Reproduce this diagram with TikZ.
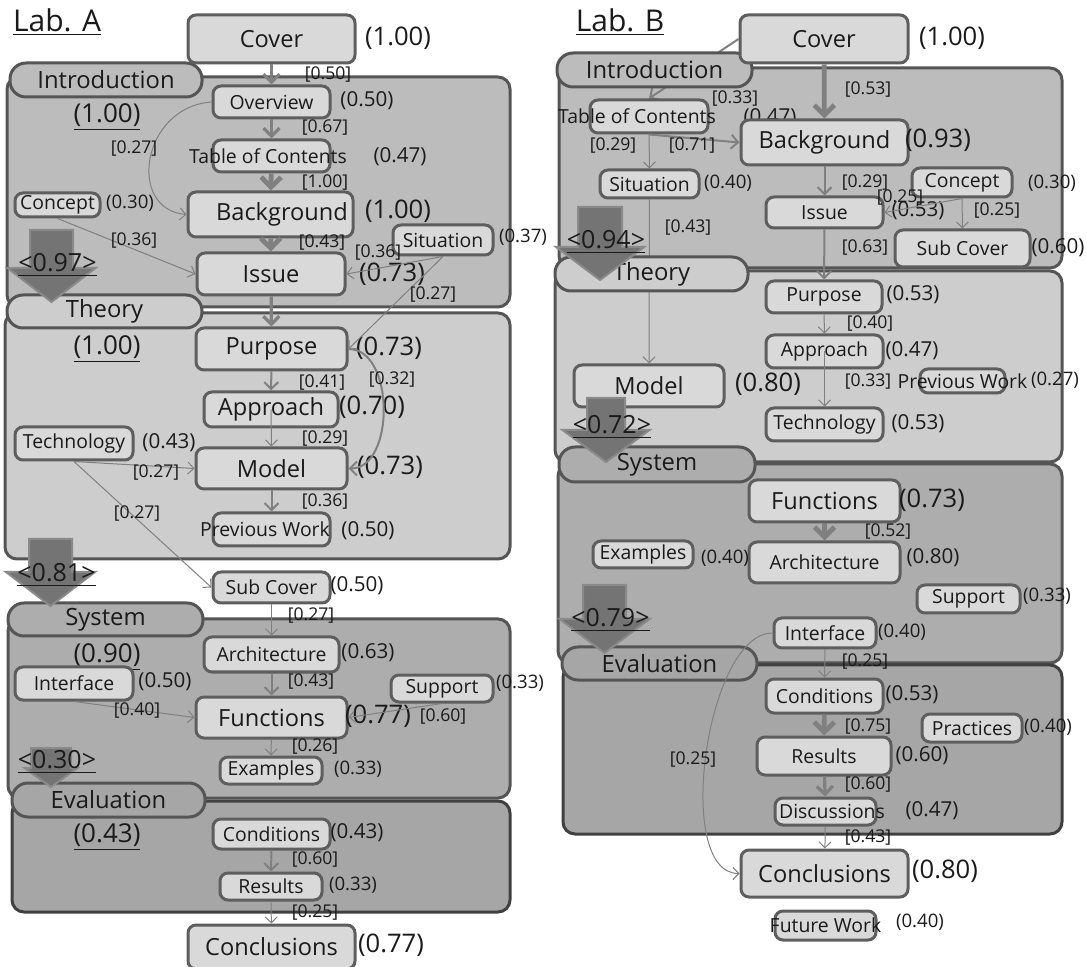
\documentclass[tikz,border=0pt]{standalone}
\usepackage{fontspec}
\setmainfont{Open Sans}
\usetikzlibrary{arrows.meta}

\definecolor{ink}{HTML}{1A1A1A}
\definecolor{boxfill}{HTML}{D9D9D9}
\definecolor{boxline}{HTML}{5E5E5E}
\definecolor{edgegray}{HTML}{808080}
\definecolor{introfill}{HTML}{BCBCBC}
\definecolor{theoryfill}{HTML}{CDCDCD}
\definecolor{systemfill}{HTML}{ADADAD}
\definecolor{evalfill}{HTML}{A6A6A6}
\definecolor{secline}{HTML}{555555}
\definecolor{evalline}{HTML}{404040}
\definecolor{arrfill}{HTML}{747474}
\definecolor{arrline}{HTML}{8A8A8A}

\pgfdeclarelayer{sec}
\pgfdeclarelayer{low}
\pgfdeclarelayer{tab}
\pgfsetlayers{sec,low,tab,main}

% big down arrow between sections: name, x, top, neck, tip, shaft half, head half, label y, label
\newcommand{\flowarrow}[9]{%
	\draw[bigarr] (#2-#6,#3) -- (#2+#6,#3) -- (#2+#6,#4) -- (#2+#7,#4) -- (#2,#5) -- (#2-#7,#4) -- (#2-#6,#4) -- cycle;
	\node[arrlbl] (#1) at (#2+6,#8) {\underline{#9}};}

\begin{document}
\begin{tikzpicture}[x=0.5pt,y=-0.5pt,text=ink,
	blk/.style={draw=boxline,fill=boxfill,line width=1.5pt,rounded corners=4pt,inner sep=0pt},
	sz/.style 2 args={minimum width=#1*0.5pt,minimum height=#2*0.5pt},
	big/.style={font=\fontsize{11.8}{13}\selectfont},
	mid/.style={font=\fontsize{9.7}{11}\selectfont},
	vbig/.style={font=\fontsize{12.8}{14}\selectfont,inner sep=0pt},
	vmid/.style={font=\fontsize{10.3}{12}\selectfont,inner sep=0pt},
	vsm/.style={font=\fontsize{9.3}{11}\selectfont,inner sep=0pt},
	lbl/.style={font=\fontsize{8.8}{10}\selectfont,inner sep=0pt},
	secbox/.style={draw=secline,line width=1.5pt,rounded corners=6pt},
	tab/.style={draw=secline,line width=1.5pt,rounded corners=8pt,inner sep=0pt,font=\fontsize{11.9}{13}\selectfont},
	secv/.style={font=\fontsize{13}{15}\selectfont,inner sep=0pt},
	e1/.style={draw=edgegray,line width=0.5pt,-{Straight Barb[length=3pt,width=6pt]}},
	e2/.style={draw=edgegray,line width=1pt,-{Straight Barb[length=3.5pt,width=7pt]}},
	e3/.style={draw=edgegray,line width=1.6pt,-{Straight Barb[length=4pt,width=8pt]}},
	e4/.style={draw=edgegray,line width=2.4pt,-{Straight Barb[length=5pt,width=10pt]}},
	bigarr/.style={draw=arrline,fill=arrfill,line width=1pt},
	arrlbl/.style={font=\fontsize{12.5}{14}\selectfont,inner sep=0pt}]
	\useasboundingbox (0,0) rectangle (1087,967);

	% Section frames
	\begin{pgfonlayer}{sec}
		\draw[secbox,fill=introfill] (7,77) rectangle (510,307);
		\draw[secbox,fill=theoryfill] (5,313) rectangle (510,559);
		\draw[secbox,fill=systemfill] (8,619) rectangle (510,798);
		\draw[secbox,fill=evalfill,draw=evalline] (12,801) rectangle (510,912);
		\draw[secbox,fill=introfill] (559,68) rectangle (1062,268);
		\draw[secbox,fill=theoryfill] (555,271) rectangle (1062,462);
		\draw[secbox,fill=systemfill] (558,464) rectangle (1062,663);
		\draw[secbox,fill=evalfill,draw=evalline] (563,665) rectangle (1062,834);
	\end{pgfonlayer}
	\begin{pgfonlayer}{tab}
		\node[tab,fill=introfill,sz={192}{34}] (aintro) at (106,80) {Introduction};
		\node[tab,fill=theoryfill,sz={195}{33}] (atheory) at (104.5,311.5) {Theory};
		\node[tab,fill=systemfill,sz={195}{33}] (asystem) at (105.5,619.5) {System};
		\node[tab,fill=evalfill,sz={193}{34}] (aeval) at (108.5,800) {Evaluation};
		\node[tab,fill=introfill,sz={195}{34}] (bintro) at (654.5,70) {Introduction};
		\node[tab,fill=theoryfill,sz={193}{34}] (btheory) at (651.5,274) {Theory};
		\node[tab,fill=systemfill,sz={196}{35}] (bsystem) at (657,464.5) {System};
		\node[tab,fill=evalfill,sz={195}{33}] (beval) at (659.5,663.5) {Evaluation};
	\end{pgfonlayer}

	% Titles and section scores
	\node[font=\fontsize{15}{17}\selectfont,inner sep=0pt] (laba) at (57,22) {\underline{Lab. A}};
	\node[font=\fontsize{15}{17}\selectfont,inner sep=0pt] (labb) at (620,22) {\underline{Lab. B}};
	\node[secv] (aintrov) at (107,117) {\underline{(1.00)}};
	\node[secv] (atheoryv) at (107,349) {\underline{(1.00)}};
	\node[secv] (asystemv) at (107,657) {\underline{(0.90)}};
	\node[secv] (aevalv) at (107,837) {\underline{(0.43)}};

	% Lab. A nodes
	\node [blk,big,sz={167}{48}] (acover) at (271.5,39) {Cover};
	\node [vbig] (acoverv) at (398,38) {(1.00)};
	\node [blk,mid,sz={117}{32}] (aover) at (271.5,102) {Overview};
	\node [vmid] (aoverv) at (367,101) {(0.50)};
	\node [blk,mid,sz={117}{32}] (atoc) at (271.5,156) {\makebox[0pt]{Table of Contents\hspace{3.5pt}}};
	\node [vmid] (atocv) at (400,157) {(0.47)};
	\node [blk,big,sz={165}{45}] (abg) at (270.5,214.5) {\hspace{11.5pt}Background};
	\node [vbig] (abgv) at (398,211) {(1.00)};
	\node [blk,mid,sz={85}{24}] (acpt) at (57.5,205) {Concept};
	\node [vsm] (acptv) at (130,203) {(0.30)};
	\node [blk,big,sz={148}{42}] (aiss) at (271,274) {Issue};
	\node [vbig] (aissv) at (392,274) {(0.73)};
	\node [blk,mid,sz={100}{30}] (asit) at (443,240) {Situation};
	\node [vsm] (asitv) at (523,237) {(0.37)};
	\node [blk,big,sz={151}{42}] (apur) at (271.5,349) {Purpose};
	\node [vbig] (apurv) at (389,348) {(0.73)};
	\node [blk,big,sz={134}{35}] (aappr) at (271,409.5) {Approach};
	\node [vbig] (aapprv) at (372,407) {(0.70)};
	\node [blk,big,sz={151}{41}] (amodel) at (271.5,468.5) {Model};
	\node [vbig] (amodelv) at (390,467) {(0.73)};
	\node [blk,mid,sz={118}{33}] (atech) at (74,443.5) {Technology};
	\node [vmid] (atechv) at (169,443) {(0.43)};
	\node [blk,mid,sz={117}{33}] (aprev) at (271.5,529.5) {\makebox[0pt]{Previous Work\hspace{6.5pt}}};
	\node [vmid] (aprevv) at (368,531) {(0.50)};
	\node [blk,mid,sz={117}{31}] (asub) at (271.5,587.5) {Sub Cover};
	\node [vmid] (asubv) at (357,586) {(0.50)};
	\node [blk,mid,sz={135}{35}] (aarch) at (271.5,654.5) {Architecture};
	\node [vmid] (aarchv) at (368,653) {(0.63)};
	\node [blk,mid,sz={118}{33}] (aint) at (74,683.5) {Interface};
	\node [vmid] (aintv) at (165,682) {(0.50)};
	\node [blk,big,sz={151}{41}] (afun) at (271.5,717.5) {Functions};
	\node [vbig] (afunv) at (378,716) {(0.77)};
	\node [blk,mid,sz={102}{27}] (asup) at (442,688.5) {Support};
	\node [vsm] (asupv) at (520,683) {(0.33)};
	\node [blk,mid,sz={102}{27}] (aex) at (271,770.5) {Examples};
	\node [vsm] (aexv) at (358,769) {(0.33)};
	\node [blk,mid,sz={117}{30}] (acond) at (271.5,834) {Conditions};
	\node [vmid] (acondv) at (357,833) {(0.43)};
	\node [blk,mid,sz={102}{27}] (ares) at (271,886.5) {Results};
	\node [vsm] (aresv) at (353,885) {(0.33)};
	\node [blk,big,sz={167}{44}] (aconcl) at (271.5,947) {Conclusions};
	\node [vbig] (aconclv) at (391,945) {(0.77)};

	% Lab. B nodes
	\node [blk,big,sz={168}{48}] (bcover) at (824,39) {Cover};
	\node [vbig] (bcoverv) at (952,38) {(1.00)};
	\node [blk,mid,sz={118}{33}] (btoc) at (649,116.5) {\makebox[0pt]{Table of Contents\hspace{12pt}}};
	\node [vmid] (btocv) at (770,118) {(0.47)};
	\node [blk,big,sz={167}{45}] (bbg) at (824.5,142.5) {Background};
	\node [vbig] (bbgv) at (938,140) {(0.93)};
	\node [blk,mid,sz={99}{28}] (bsit) at (649.5,184) {Situation};
	\node [vsm] (bsitv) at (728,183) {(0.40)};
	\node [blk,mid,sz={100}{29}] (bcpt) at (962,182.5) {Concept};
	\node [vsm] (bcptv) at (1052,183) {(0.30)};
	\node [blk,mid,sz={117}{31}] (biss) at (824.5,212.5) {Issue};
	\node [vmid] (bissv) at (918,211) {(0.53)};
	\node [blk,mid,sz={135}{37}] (bsub) at (962.5,248.5) {Sub Cover};
	\node [vmid] (bsubv) at (1058,248) {(0.60)};
	\node [blk,mid,sz={116}{32}] (bpur) at (824,297) {Purpose};
	\node [vmid] (bpurv) at (913,295) {(0.53)};
	\node [blk,mid,sz={117}{33}] (bappr) at (824.5,351.5) {Approach};
	\node [vmid] (bapprv) at (912,351) {(0.47)};
	\node [blk,mid,sz={85}{24}] (bprev) at (962.5,381) {\makebox[0pt]{Previous Work}};
	\node [vsm] (bprevv) at (1055,380) {(0.27)};
	\node [blk,big,sz={150}{42}] (bmodel) at (649,386) {Model};
	\node [vbig] (bmodelv) at (768,384) {(0.80)};
	\node [blk,mid,sz={117}{33}] (btech) at (824.5,424.5) {Technology};
	\node [vmid] (btechv) at (918,424) {(0.53)};
	\node [blk,big,sz={151}{42}] (bfun) at (824.5,501) {Functions};
	\node [vbig] (bfunv) at (932,500) {(0.73)};
	\node [blk,mid,sz={151}{41}] (barch) at (824.5,562.5) {Architecture};
	\node [vmid] (barchv) at (933,558) {(0.80)};
	\node [blk,mid,sz={100}{27}] (bex) at (643,554.5) {Examples};
	\node [vsm] (bexv) at (725,558) {(0.40)};
	\node [blk,mid,sz={103}{28}] (bsup) at (968.5,599) {Support};
	\node [vsm] (bsupv) at (1047,596) {(0.33)};
	\node [blk,mid,sz={102}{30}] (bint) at (825,633) {Interface};
	\node [vsm] (bintv) at (902,632) {(0.40)};
	\node [blk,mid,sz={117}{34}] (bcond) at (824.5,696) {Conditions};
	\node [vmid] (bcondv) at (912,695) {(0.53)};
	\node [blk,mid,sz={100}{28}] (bprac) at (972,728) {Practices};
	\node [vsm] (bpracv) at (1048,727) {(0.40)};
	\node [blk,mid,sz={134}{38}] (bres) at (824,756) {Results};
	\node [vmid] (bresv) at (922,756) {(0.60)};
	\node [blk,mid,sz={101}{27}] (bdisc) at (825.5,811.5) {\makebox[0pt]{\hspace{6.5pt}Discussions}};
	\node [vmid] (bdiscv) at (932,811) {(0.47)};
	\node [blk,big,sz={167}{47}] (bconcl) at (824.5,873.5) {Conclusions};
	\node [vbig] (bconclv) at (945,871) {(0.80)};
	\node [blk,mid,sz={101}{29}] (bfut) at (825.5,925.5) {\makebox[0pt]{Future Work}};
	\node [vsm] (bfutv) at (920,922) {(0.40)};

	% Lab. A transitions
	\draw[e3] (acover) -- (aover);
	\draw[e3] (aover) -- (atoc);
	\draw[e4] (atoc) -- (abg);
	\draw[e1] (aover.west) .. controls +(-70,5) and +(-60,-5) .. (abg.west);
	\draw[e1] (acpt.south) -- (aiss.west);
	\draw[e4] (abg) -- (aiss);
	\draw[e1] (asit.south) -- (aiss.east);
	\draw[e1] (asit.south) -- (apur.east);
	\draw[e3] (aiss) -- (apur);
	\draw[e2] (apur) -- (aappr);
	\draw[e1] (aappr.center) -- (amodel.north);
	\draw[e2] (apur.east) to[out=0,in=0] (amodel.east);
	\draw[e1] (atech.south) -- (amodel.west);
	\draw[e1] (atech.south) -- (asub.west);
	\draw[e2] (amodel) -- (aprev);
	\draw[e1] (asub) -- (aarch);
	\draw[e2] (aarch) -- (afun);
	\draw[e1] (aint.south) -- (afun.west);
	\draw[e1] (asup.south) -- (afun.east);
	\draw[e1] (afun) -- (aex);
	\draw[e2] (acond) -- (ares);
	\draw[e1] (ares) -- (aconcl);

	\node [lbl] (la1) at (328,75) {[0.50]};
	\node [lbl] (la2) at (325,128) {[0.67]};
	\node [lbl] (la3) at (134,149) {[0.27]};
	\node [lbl] (la4) at (325,183) {[1.00]};
	\node [lbl] (la5) at (134,241) {[0.36]};
	\node [lbl] (la6) at (322,243) {[0.43]};
	\node [lbl] (la7) at (378,253) {[0.36]};
	\node [lbl] (la8) at (433,295) {[0.27]};
	\node [lbl] (la9) at (322,383) {[0.41]};
	\node [lbl] (la10) at (392,380) {[0.32]};
	\node [lbl] (la11) at (325,439) {[0.29]};
	\node [lbl] (la12) at (156,473) {[0.27]};
	\node [lbl] (la13) at (325,502) {[0.36]};
	\node [lbl] (la14) at (137,514) {[0.27]};
	\node [lbl] (la15) at (311,616) {[0.27]};
	\node [lbl] (la16) at (311,682) {[0.43]};
	\node [lbl] (la17) at (137,711) {[0.40]};
	\node [lbl] (la18) at (443,717) {[0.60]};
	\node [lbl] (la19) at (315,747) {[0.26]};
	\node [lbl] (la20) at (315,860) {[0.60]};
	\node [lbl] (la21) at (315,913) {[0.25]};

	% Lab. B transitions
	\begin{pgfonlayer}{low}
		\draw[e2] (bcover.west) -- (btoc.north);
		\draw[e1] (bsit) -- (bmodel);
	\end{pgfonlayer}
	\draw[e4] (bcover) -- (bbg);
	\draw[e2] (btoc.south) -- (bbg.west);
	\draw[e1] (btoc.south) -- (bsit.north);
	\draw[e2] (bbg) -- (biss);
	\draw[e1] (bcpt.south) -- (biss.east);
	\draw[e1] (bcpt.south) -- (bsub.north);
	\draw[e2] (biss) -- (bpur);
	\draw[e1] (bpur) -- (bappr);
	\draw[e1] (bappr.center) -- (btech.north);
	\draw[e4] (bfun) -- (barch);
	\draw[e1] (bint) -- (bcond);
	\draw[e1] (bint.west) to[out=180,in=180,looseness=0.7] (bconcl.west);
	\draw[e4] (bcond) -- (bres);
	\draw[e3] (bres) -- (bdisc);
	\draw[e1] (bdisc) -- (bconcl);

	\node [lbl] (lb1) at (735,99) {[0.33]};
	\node [lbl] (lb2) at (868,90) {[0.53]};
	\node [lbl] (lb3) at (613,146) {[0.29]};
	\node [lbl] (lb4) at (692,146) {[0.71]};
	\node [lbl] (lb5) at (865,183) {[0.29]};
	\node [lbl] (lb6) at (900,198) {[0.25]};
	\node [lbl] (lb7) at (997,211) {[0.25]};
	\node [lbl] (lb8) at (688,228) {[0.43]};
	\node [lbl] (lb9) at (865,248) {[0.63]};
	\node [lbl] (lb10) at (870,324) {[0.40]};
	\node [lbl] (lb11) at (868,382) {[0.33]};
	\node [lbl] (lb12) at (888,532) {[0.52]};
	\node [lbl] (lb13) at (865,662) {[0.25]};
	\node [lbl] (lb14) at (693,760) {[0.25]};
	\node [lbl] (lb15) at (868,727) {[0.75]};
	\node [lbl] (lb16) at (868,785) {[0.60]};
	\node [lbl] (lb17) at (868,838) {[0.43]};

	% Section-to-section flow
	\flowarrow{fa1}{51.5}{230}{268}{302}{21.5}{44}{265}{<0.97>}
	\flowarrow{fa2}{50.5}{539}{572}{606}{21.5}{44.5}{575}{<0.81>}
	\flowarrow{fa3}{51}{748}{768}{787}{20}{26.5}{762}{<0.30>}
	\flowarrow{fb1}{600}{207}{247}{280}{22}{44}{242}{<0.94>}
	\flowarrow{fb2}{606}{398}{430}{462}{19}{43.5}{427}{<0.72>}
	\flowarrow{fb3}{604.5}{585}{619}{653}{21.5}{45}{620}{<0.79>}
\end{tikzpicture}
\end{document}
